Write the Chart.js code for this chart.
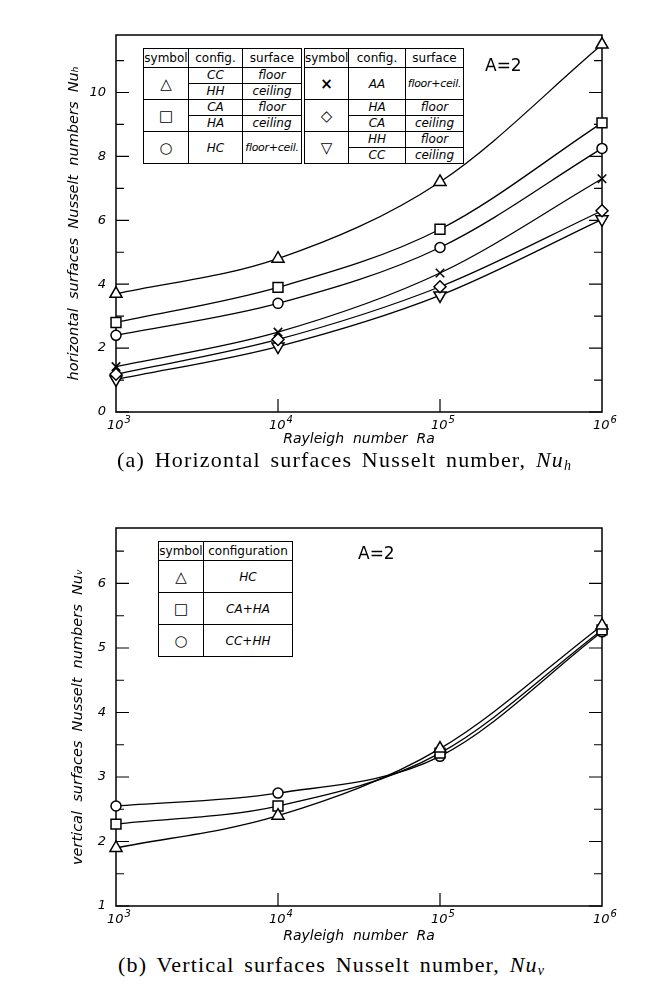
<!DOCTYPE html>
<html>
<head>
<meta charset="utf-8">
<script src="https://cdn.jsdelivr.net/npm/chart.js@4.4.1/dist/chart.umd.min.js"></script>
<style>
    body { margin: 0; background: #fff; width: 650px; height: 995px; position: relative; overflow: hidden; font-family: "DejaVu Sans", sans-serif; }
    canvas { position: absolute; left: 0; }
    table.leg { position: absolute; border-collapse: collapse; table-layout: fixed; background: #fff; border: 1.5px solid #000; }
    table.leg td { border: 1px solid #000; padding: 0; text-align: center; font-size: 12px; font-style: italic; line-height: 14px; color: #000; white-space: nowrap; overflow: hidden; }
    table.leg tr.hd td { font-style: normal; height: 18px; }
    table.leg tr.grp td { height: 31px; }
    table.leg td.sym { font-style: normal; font-size: 15px; font-weight: bold; }
    table.leg td.both { font-size: 11px; letter-spacing: -0.3px; }
    table.leg td.split div { height: 15px; line-height: 15px; }
    table.leg td.split div + div { border-top: 1px solid #000; }
    .aeq { position: absolute; font-size: 17px; color: #000; }
    .cap { position: absolute; font-family: "Liberation Serif", serif; font-size: 22px; letter-spacing: 1.2px; word-spacing: 3px; color: #000; white-space: nowrap; }
    .cap i { font-style: italic; }
    .cap sub { font-size: 14px; vertical-align: -3px; font-style: italic; letter-spacing: 0; }
</style>
</head>
<body>
<canvas id="topChart" width="650" height="452" style="top:0"></canvas>
<canvas id="bottomChart" width="650" height="460" style="top:490px"></canvas>

<table class="leg" style="left:143px;top:48px;width:158px">
    <colgroup><col style="width:45px"><col style="width:54px"><col style="width:59px"></colgroup>
    <tr class="hd"><td>symbol</td><td>config.</td><td>surface</td></tr>
    <tr class="grp"><td class="sym">△</td><td class="split"><div>CC</div><div>HH</div></td><td class="split"><div>floor</div><div>ceiling</div></td></tr>
    <tr class="grp"><td class="sym">□</td><td class="split"><div>CA</div><div>HA</div></td><td class="split"><div>floor</div><div>ceiling</div></td></tr>
    <tr class="grp"><td class="sym">○</td><td>HC</td><td class="both">floor+ceil.</td></tr>
</table>
<table class="leg" style="left:304px;top:48px;width:159px">
    <colgroup><col style="width:44px"><col style="width:57px"><col style="width:58px"></colgroup>
    <tr class="hd"><td>symbol</td><td>config.</td><td>surface</td></tr>
    <tr class="grp"><td class="sym">×</td><td>AA</td><td class="both">floor+ceil.</td></tr>
    <tr class="grp"><td class="sym">◇</td><td class="split"><div>HA</div><div>CA</div></td><td class="split"><div>floor</div><div>ceiling</div></td></tr>
    <tr class="grp"><td class="sym">▽</td><td class="split"><div>HH</div><div>CC</div></td><td class="split"><div>floor</div><div>ceiling</div></td></tr>
</table>
<div class="aeq" style="left:485px;top:55px">A=2</div>

<table class="leg" style="left:158px;top:541px;width:134px">
    <colgroup><col style="width:45px"><col style="width:89px"></colgroup>
    <tr class="hd"><td>symbol</td><td>configuration</td></tr>
    <tr class="grp"><td class="sym">△</td><td>HC</td></tr>
    <tr class="grp"><td class="sym">□</td><td>CA+HA</td></tr>
    <tr class="grp"><td class="sym">○</td><td>CC+HH</td></tr>
</table>
<div class="aeq" style="left:358px;top:543px">A=2</div>

<div class="cap" style="left:117px;top:447px">(a) Horizontal surfaces Nusselt number, <i>Nu</i><sub>h</sub></div>
<div class="cap" style="left:118px;top:952px">(b) Vertical surfaces Nusselt number, <i>Nu</i><sub>v</sub></div>

<script>
// Rayleigh numbers (x)
const rayleigh = [1e3, 1e4, 1e5, 1e6];
const xTickExp = ['3', '4', '5', '6'];

// (a) horizontal surfaces Nu_h
const nuhTriangle = [3.7, 4.8, 7.2, 11.5];
const nuhSquare   = [2.8, 3.9, 5.72, 9.05];
const nuhCircle   = [2.4, 3.4, 5.15, 8.25];
const nuhCross    = [1.42, 2.5, 4.35, 7.3];
const nuhDiamond  = [1.18, 2.27, 3.92, 6.3];
const nuhDown     = [1.02, 2.05, 3.65, 6.03];
const topYMajor = [0, 2, 4, 6, 8, 10];
const topYMinor = [1, 3, 5, 7, 9, 11];

// (b) vertical surfaces Nu_v
const nuvTriangle = [1.9, 2.4, 3.44, 5.35];
const nuvSquare   = [2.27, 2.55, 3.37, 5.28];
const nuvCircle   = [2.55, 2.75, 3.32, 5.25];
const botYMajor = [1, 2, 3, 4, 5, 6];
const botYMinor = [1.5, 2.5, 3.5, 4.5, 5.5, 6.5];

const axisFont = { family: 'DejaVu Sans', style: 'italic', size: 13 };
const titleFont = { family: 'DejaVu Sans', style: 'italic', size: 14.5 };

function series(label, vals, style, radius, rotation) {
    return {
        label: label,
        data: rayleigh.map((x, i) => ({ x: x, y: vals[i] })),
        borderColor: '#000',
        borderWidth: 1.3,
        pointStyle: style,
        pointRadius: radius,
        pointRotation: rotation || 0,
        pointBorderColor: '#000',
        pointBorderWidth: 1.5,
        pointBackgroundColor: '#fff',
        cubicInterpolationMode: 'monotone',
        clip: false
    };
}

// frame, inward tick marks and 10^n labels
const frameTicks = {
    id: 'frameTicks',
    beforeDatasetsDraw(chart, args, opts) {
        const ctx = chart.ctx;
        const a = chart.chartArea;
        const ys = chart.scales.y;
        const xs = chart.scales.x;
        ctx.save();
        ctx.strokeStyle = '#000';
        ctx.lineWidth = 1.5;
        ctx.strokeRect(a.left, a.top, a.right - a.left, a.bottom - a.top);
        ctx.lineWidth = 1.2;
        ctx.beginPath();
        opts.major.forEach(v => {
            const y = ys.getPixelForValue(v);
            ctx.moveTo(a.left, y); ctx.lineTo(a.left + 13, y);
            ctx.moveTo(a.right, y); ctx.lineTo(a.right - 13, y);
        });
        opts.minor.forEach(v => {
            const y = ys.getPixelForValue(v);
            ctx.moveTo(a.left, y); ctx.lineTo(a.left + 8, y);
            ctx.moveTo(a.right, y); ctx.lineTo(a.right - 8, y);
        });
        [1e4, 1e5].forEach(v => {
            const x = xs.getPixelForValue(v);
            ctx.moveTo(x, a.bottom); ctx.lineTo(x, a.bottom - 13);
        });
        ctx.stroke();

        // x tick labels: "10" with raised exponent
        ctx.fillStyle = '#000';
        ctx.textBaseline = 'alphabetic';
        rayleigh.forEach((v, i) => {
            const x = xs.getPixelForValue(v);
            ctx.font = 'italic 13px "DejaVu Sans"';
            const wb = ctx.measureText('10').width;
            ctx.font = 'italic 10px "DejaVu Sans"';
            const we = ctx.measureText(xTickExp[i]).width;
            const x0 = x - (wb + we + 1) / 2 + 3;
            ctx.font = 'italic 13px "DejaVu Sans"';
            ctx.fillText('10', x0, a.bottom + 17);
            ctx.font = 'italic 10px "DejaVu Sans"';
            ctx.fillText(xTickExp[i], x0 + wb + 1, a.bottom + 11);
        });
        ctx.restore();
    }
};

function makeChart(id, datasets, yMin, yMax, major, minor, yTitle, pad, xHeight, xTitlePad, yTitlePad) {
    return new Chart(document.getElementById(id).getContext('2d'), {
        type: 'line',
        data: { datasets: datasets },
        plugins: [frameTicks],
        options: {
            responsive: false,
            animation: false,
            layout: { padding: pad },
            plugins: {
                legend: { display: false },
                tooltip: { enabled: false },
                frameTicks: { major: major, minor: minor }
            },
            scales: {
                x: {
                    type: 'logarithmic',
                    min: 1e3,
                    max: 1e6,
                    grid: { display: false, drawTicks: false },
                    border: { display: false },
                    afterBuildTicks: s => { s.ticks = rayleigh.map(v => ({ value: v })); },
                    afterFit: s => { s.height = xHeight; },
                    ticks: { display: false },
                    title: {
                        display: true,
                        text: 'Rayleigh  number  Ra',
                        color: '#000',
                        font: { family: 'DejaVu Sans', style: 'italic', size: 14 },
                        padding: { top: 0, bottom: xTitlePad }
                    }
                },
                y: {
                    min: yMin,
                    max: yMax,
                    grid: { display: false, drawTicks: false },
                    border: { display: false },
                    afterBuildTicks: s => { s.ticks = major.map(v => ({ value: v })); },
                    afterFit: s => { s.width = 116; },
                    ticks: {
                        color: '#000',
                        font: axisFont,
                        padding: 10
                    },
                    title: {
                        display: true,
                        text: yTitle,
                        color: '#000',
                        font: titleFont,
                        padding: { top: yTitlePad, bottom: 0 }
                    }
                }
            }
        }
    });
}

makeChart('topChart', [
    series('triangle', nuhTriangle, 'triangle', 7),
    series('square', nuhSquare, 'rect', 7),
    series('circle', nuhCircle, 'circle', 5),
    series('cross', nuhCross, 'crossRot', 6),
    series('diamond', nuhDiamond, 'rectRot', 6),
    series('down', nuhDown, 'triangle', 7, 180)
], 0, 11.8, topYMajor, topYMinor, 'horizontal  surfaces  Nusselt  numbers  Nuₕ',
   { left: 0, right: 48, top: 35, bottom: 0 }, 40, 4, 66);

makeChart('bottomChart', [
    series('HC', nuvTriangle, 'triangle', 7),
    series('CA+HA', nuvSquare, 'rect', 7),
    series('CC+HH', nuvCircle, 'circle', 5)
], 1, 6.86, botYMajor, botYMinor, 'vertical  surfaces  Nusselt  numbers  Nuᵥ',
   { left: 0, right: 48, top: 38, bottom: 0 }, 44, 5, 70);
</script>
</body>
</html>
